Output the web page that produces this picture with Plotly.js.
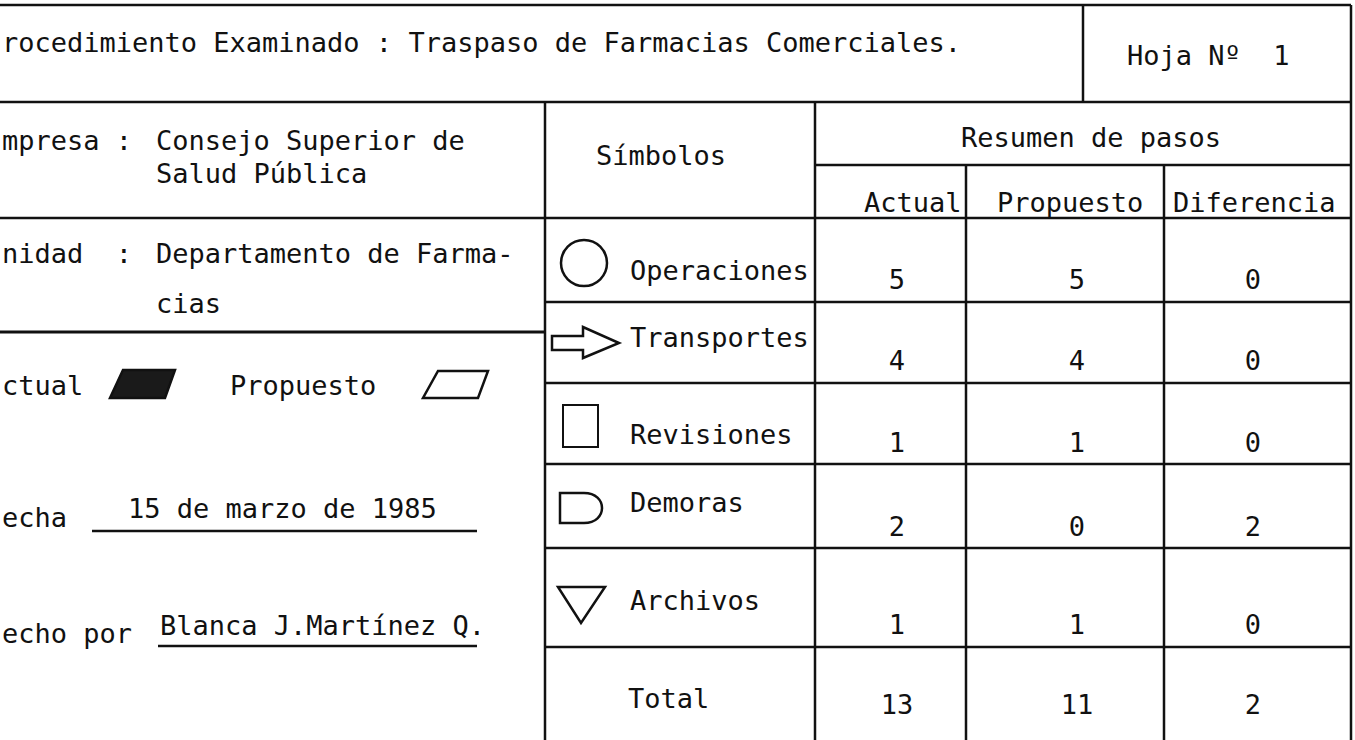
<!DOCTYPE html>
<html>
<head>
<meta charset="utf-8">
<script src="https://cdn.plot.ly/plotly-3.0.1.min.js"></script>
<style>
  html, body { margin: 0; padding: 0; background: #fff; }
  #chart { width: 1355px; height: 740px; }
</style>
</head>
<body>
<div id="chart"></div>
<script>
// ---- Data ----
const titleText = "rocedimiento Examinado : Traspaso de Farmacias Comerciales.";
const sheetText = "Hoja Nº  1";
const infoLabels = ["mpresa :", "nidad  :"];
const empresaLines = ["Consejo Superior de", "Salud Pública"];
const unidadLines = ["Departamento de Farma-", "cias"];
const legendLabels = ["ctual", "Propuesto"];
const fechaLabel = "echa";
const fechaValue = "15 de marzo de 1985";
const autorLabel = "echo por";
const autorValue = "Blanca J.Martínez Q.";
const symbolsHeader = "Símbolos";
const summaryHeader = "Resumen de pasos";
const columnHeaders = ["Actual", "Propuesto", "Diferencia"];
const categories = ["Operaciones", "Transportes", "Revisiones", "Demoras", "Archivos", "Total"];
const actual = [5, 4, 1, 2, 1, 13];
const propuesto = [5, 4, 1, 0, 1, 11];
const diferencia = [0, 0, 0, 2, 0, 2];

// ---- Layout geometry ----
const W = 1355, H = 740;
const FONT = {family: "DejaVu Sans Mono, Liberation Mono, monospace", size: 27, color: "#111"};
const LC = "#111", LW = 2.5;

const xLeftDiv = 545, xSymDiv = 815, xCol1 = 966, xCol2 = 1164, xRight = 1351, xHoja = 1083;
const yTop = 5, yTitle = 102, ySub = 165, yHead = 218, yBottom = 740;
const rowBottoms = [302, 383, 464, 548, 647, 740];
const catTextY = [270, 337, 434, 502, 600, 698];
const valY = [282, 363, 445, 529, 627, 707];
const colCenters = [897, 1077, 1253];

function line(x0, y0, x1, y1, w) {
  return {type: "line", xref: "x", yref: "y", x0, y0, x1, y1, line: {color: LC, width: w || LW}};
}
const shapes = [
  line(0, yTop, xRight, yTop),
  line(xRight, yTop, xRight, yBottom),
  line(xHoja, yTop, xHoja, yTitle),
  line(0, yTitle, xRight, yTitle),
  line(xLeftDiv, yTitle, xLeftDiv, yBottom),
  line(xSymDiv, yTitle, xSymDiv, yBottom),
  line(xSymDiv, ySub, xRight, ySub),
  line(xCol1, ySub, xCol1, yBottom),
  line(xCol2, ySub, xCol2, yBottom),
  line(0, yHead, xRight, yHead),
  line(0, 332, xLeftDiv, 332, 3),
  line(92, 531, 477, 531),
  line(158, 646, 477, 646)
];
rowBottoms.slice(0, 5).forEach(y => shapes.push(line(xLeftDiv, y, xRight, y)));

// symbols
const sym = {type: "path", xref: "x", yref: "y", line: {color: LC, width: 2.5}, fillcolor: "rgba(0,0,0,0)"};
shapes.push({type: "circle", xref: "x", yref: "y", x0: 561, y0: 240, x1: 607, y1: 286, line: {color: LC, width: 2.5}});
shapes.push(Object.assign({}, sym, {path: "M552,336 L583,336 L583,327 L619,343 L583,358 L583,350 L552,350 Z"}));
shapes.push({type: "rect", xref: "x", yref: "y", x0: 563, y0: 405, x1: 598, y1: 447, line: {color: LC, width: 2}});
shapes.push(Object.assign({}, sym, {path: "M560,493 L584,493 C608,493 608,523 584,523 L560,523 Z"}));
shapes.push(Object.assign({}, sym, {path: "M558,587 L605,587 L581,623 Z"}));
// legend parallelograms
shapes.push(Object.assign({}, sym, {path: "M110,398 L165,398 L175,370 L123,370 Z", fillcolor: "#1a1a1a"}));
shapes.push(Object.assign({}, sym, {path: "M423,398 L478,398 L488,371 L438,371 Z"}));

function ann(text, x, y, xanchor) {
  return {text, x, y, xref: "x", yref: "y", xanchor: xanchor || "left", yanchor: "middle",
          showarrow: false, font: FONT};
}
const annotations = [
  ann(titleText, 0, 42),
  ann(sheetText, 1125, 55),
  ann(infoLabels[0], 0, 140),
  ann(empresaLines[0], 154, 140),
  ann(empresaLines[1], 154, 173),
  ann(infoLabels[1], 0, 253),
  ann(unidadLines[0], 154, 253),
  ann(unidadLines[1], 154, 303),
  ann(legendLabels[0], 0, 385),
  ann(legendLabels[1], 228, 385),
  ann(fechaLabel, 0, 517),
  ann(fechaValue, 126, 508),
  ann(autorLabel, 0, 633),
  ann(autorValue, 158, 625),
  ann(symbolsHeader, 661, 155, "center"),
  ann(summaryHeader, 1091, 137, "center"),
  ann(columnHeaders[0], 862, 202),
  ann(columnHeaders[1], 995, 202),
  ann(columnHeaders[2], 1171, 202)
];
categories.forEach((c, i) => annotations.push(ann(c, i === 5 ? 626 : 628, catTextY[i])));

const valueTrace = {
  type: "scatter", mode: "text", hoverinfo: "skip", showlegend: false,
  x: [], y: [], text: [], textfont: FONT, textposition: "middle center", cliponaxis: false
};
[actual, propuesto, diferencia].forEach((col, ci) => {
  col.forEach((v, ri) => {
    valueTrace.x.push(colCenters[ci]);
    valueTrace.y.push(valY[ri]);
    valueTrace.text.push(String(v));
  });
});

const layout = {
  width: W, height: H,
  margin: {l: 0, r: 0, t: 0, b: 0, pad: 0},
  paper_bgcolor: "#ffffff", plot_bgcolor: "#ffffff",
  xaxis: {range: [0, W], visible: false, fixedrange: true},
  yaxis: {range: [H, 0], visible: false, fixedrange: true},
  shapes, annotations, showlegend: false
};
Plotly.newPlot("chart", [valueTrace], layout, {staticPlot: true, displayModeBar: false});
</script>
</body>
</html>
